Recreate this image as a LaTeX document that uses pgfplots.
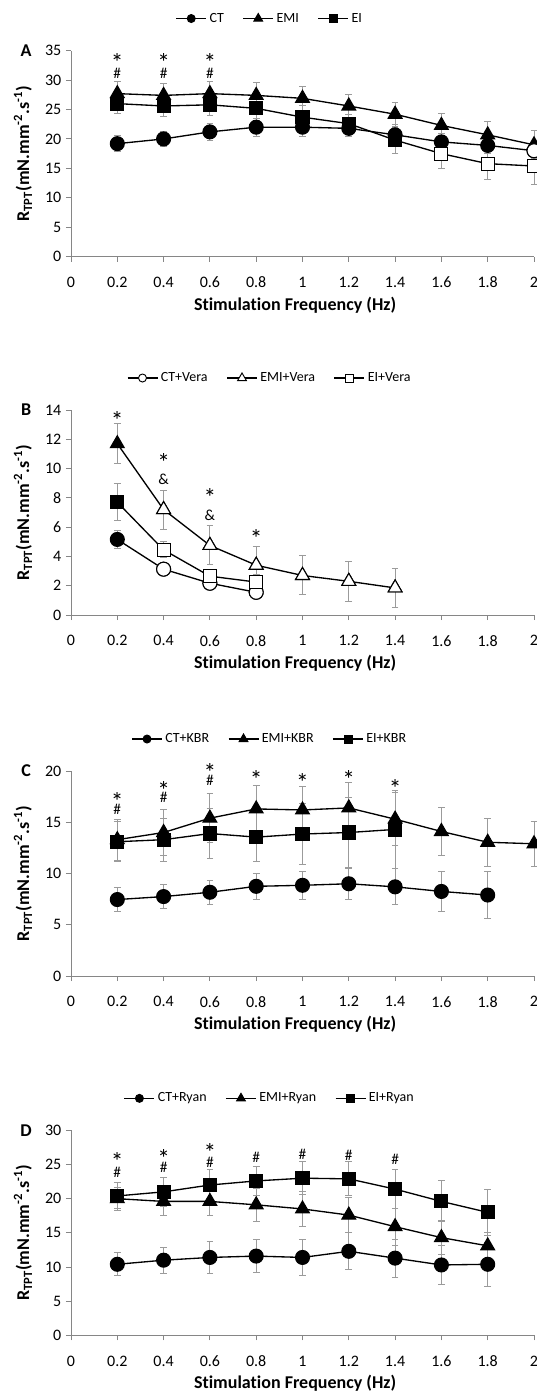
\documentclass[border=0pt]{standalone}
\usepackage{fontspec}
\setmainfont{Carlito}[Ligatures={NoCommon}]
\usepackage{pgfplots}
\pgfplotsset{compat=1.18}
\definecolor{axgray}{RGB}{134,134,134}
\definecolor{errgray}{RGB}{155,155,155}
\tikzset{
  ast/.style={font=\fontsize{19}{21}\selectfont, anchor=base, yshift=-9.9pt, inner sep=0pt},
  hsh/.style={font=\fontsize{11.5}{13}\selectfont, anchor=base, yshift=-4pt, inner sep=0pt},
  plet/.style={font=\bfseries\fontsize{13.5}{15}\selectfont, anchor=center},
}
\pgfplotsset{
  panel/.style={
    scale only axis, width=347.25pt, height=153.75pt,
    xmin=0, xmax=2, ymin=0,
    axis lines*=left,
    axis line style={axgray, line width=0.75pt},
    xtick={0,0.2,0.4,0.6,0.8,1,1.2,1.4,1.6,1.8,2},
    xticklabels={0,0.2,0.4,0.6,0.8,1,1.2,1.4,1.6,1.8,2},
    tick align=outside, major tick length=3.75pt,
    tick style={axgray, line width=0.75pt},
    tick label style={font=\fontsize{12}{14}\selectfont},
    xticklabel style={yshift=-8pt},
    /pgf/number format/assume math mode=true,
    clip=false,
    xlabel={Stimulation Frequency (Hz)},
    xlabel style={at={(axis description cs:0.484,-0.234)}, anchor=center, font=\bfseries\fontsize{13.5}{15}\selectfont},
    ylabel={R\textsubscript{TPT}(mN.mm\textsuperscript{-2}.s\textsuperscript{-1})},
    ylabel style={at={(axis description cs:-0.1037,0.5)}, anchor=center, font=\bfseries\fontsize{13.5}{15}\selectfont},
    legend style={at={(0.43,1.156)}, anchor=center, draw=none, fill=none, legend columns=-1,
      font=\fontsize{10.5}{12}\selectfont, inner sep=0pt,
      /tikz/every even column/.append style={column sep=12pt}},
    legend image code/.code={\draw[mark repeat=2,mark phase=2,#1] plot coordinates {(0pt,0pt) (11.25pt,0pt) (22.5pt,0pt)};},
  },
  ser/.style={black, line width=1pt, mark options={solid, line width=0.8pt, draw=black, fill=black},
    error bars/y dir=both, error bars/y explicit,
    error bars/error bar style={errgray, line width=0.75pt, solid},
    error bars/error mark options={rotate=90, errgray, mark size=2.5pt, line width=0.75pt}},
  circ/.style={mark=*, mark size=5.25pt},
  tri/.style={mark=triangle*, mark size=6pt},
  sqr/.style={mark=square*, mark size=4.9pt},
  openm/.style={forget plot, only marks, mark options={solid, line width=0.8pt, draw=black, fill=white}},
  lg/.style={black, line width=1pt, mark options={solid, line width=0.7pt, draw=black, fill=black}},
  lgo/.style={black, line width=1pt, mark options={solid, line width=0.7pt, draw=black, fill=white}},
}
\begin{document}
\begin{tikzpicture}
% ---------------- Panel A ----------------
\begin{axis}[panel, at={(53.25pt,-192.5pt)}, anchor=south west, ymax=35, ytick={0,5,...,35}, height=154.5pt]
\addlegendimage{lg, mark=*, mark size=3pt}\addlegendentry{CT}
\addlegendimage{lg, mark=triangle*, mark size=3.8pt}\addlegendentry{EMI}
\addlegendimage{lg, mark=square*, mark size=3pt}\addlegendentry{EI}
\addplot[ser, circ, forget plot] coordinates {
 (0.2,19.2) +- (0,1.4) (0.4,20.0) +- (0,1.3) (0.6,21.2) +- (0,1.4) (0.8,22.0) +- (0,1.5)
 (1.0,22.0) +- (0,1.5) (1.2,21.8) +- (0,1.4) (1.4,20.7) +- (0,1.7) (1.6,19.5) +- (0,1.5)
 (1.8,18.9) +- (0,1.4) (2.0,18.0) +- (0,1.5)};
\addplot[ser, tri, forget plot] coordinates {
 (0.2,27.7) +- (0,2.0) (0.4,27.4) +- (0,2.0) (0.6,27.7) +- (0,2.0) (0.8,27.4) +- (0,2.2)
 (1.0,26.9) +- (0,2.0) (1.2,25.6) +- (0,1.9) (1.4,24.2) +- (0,2.0) (1.6,22.3) +- (0,2.1)
 (1.8,20.7) +- (0,2.3) (2.0,19.0) +- (0,2.4)};
\addplot[ser, sqr, forget plot] coordinates {
 (0.2,26.0) +- (0,1.7) (0.4,25.6) +- (0,1.8) (0.6,25.8) +- (0,1.8) (0.8,25.2) +- (0,2.0)
 (1.0,23.7) +- (0,1.9) (1.2,22.6) +- (0,1.5) (1.4,19.8) +- (0,2.2) (1.6,17.5) +- (0,2.6)
 (1.8,15.8) +- (0,2.7) (2.0,15.4) +- (0,3.1)};
\addplot[openm, circ] coordinates {(2.0,18.0)};
\addplot[openm, sqr] coordinates {(1.6,17.5) (1.8,15.8) (2.0,15.4)};
\node[ast] at (axis cs:0.2,33.7) {*}; \node[hsh] at (axis cs:0.2,31.2) {\#};
\node[ast] at (axis cs:0.4,33.7) {*}; \node[hsh] at (axis cs:0.4,31.2) {\#};
\node[ast] at (axis cs:0.6,33.7) {*}; \node[hsh] at (axis cs:0.6,31.2) {\#};
\node[plet] at (axis description cs:-0.097,1) {A};
\end{axis}
% ---------------- Panel B ----------------
\begin{axis}[panel, at={(53.25pt,-461.25pt)}, anchor=south west, ymax=14, ytick={0,2,...,14}]
\addlegendimage{lgo, mark=*, mark size=3pt}\addlegendentry{CT+Vera}
\addlegendimage{lgo, mark=triangle*, mark size=3.8pt}\addlegendentry{EMI+Vera}
\addlegendimage{lgo, mark=square*, mark size=3pt}\addlegendentry{EI+Vera}
\addplot[ser, circ, forget plot] coordinates {
 (0.2,5.16) +- (0,0.6) (0.4,3.13) +- (0,0.3) (0.6,2.17) +- (0,0.3) (0.8,1.55) +- (0,0.3)};
\addplot[ser, tri, forget plot] coordinates {
 (0.2,11.7) +- (0,1.35) (0.4,7.2) +- (0,1.33) (0.6,4.75) +- (0,1.33) (0.8,3.4) +- (0,1.3)
 (1.0,2.7) +- (0,1.33) (1.2,2.3) +- (0,1.35) (1.4,1.85) +- (0,1.33)};
\addplot[ser, sqr, forget plot] coordinates {
 (0.2,7.7) +- (0,1.25) (0.4,4.45) +- (0,0.55) (0.6,2.65) +- (0,0.45) (0.8,2.25) +- (0,0.5)};
\addplot[openm, circ] coordinates {(0.4,3.13) (0.6,2.17) (0.8,1.55)};
\addplot[openm, tri] coordinates {(0.4,7.2) (0.6,4.75) (0.8,3.4) (1.0,2.7) (1.2,2.3) (1.4,1.85)};
\addplot[openm, sqr] coordinates {(0.4,4.45) (0.6,2.65) (0.8,2.25)};
\node[ast] at (axis cs:0.2,13.6) {*};
\node[ast] at (axis cs:0.4,10.7) {*}; \node[hsh] at (axis cs:0.4,9.3) {\&};
\node[ast] at (axis cs:0.6,8.3) {*}; \node[hsh] at (axis cs:0.6,6.85) {\&};
\node[ast] at (axis cs:0.8,5.5) {*};
\node[plet] at (axis description cs:-0.097,1) {B};
\end{axis}
% ---------------- Panel C ----------------
\begin{axis}[panel, at={(53.25pt,-732pt)}, anchor=south west, ymax=20, ytick={0,5,...,20}]
\addlegendimage{lg, mark=*, mark size=3pt}\addlegendentry{CT+KBR}
\addlegendimage{lg, mark=triangle*, mark size=3.8pt}\addlegendentry{EMI+KBR}
\addlegendimage{lg, mark=square*, mark size=3pt}\addlegendentry{EI+KBR}
\addplot[ser, circ, forget plot] coordinates {
 (0.2,7.46) +- (0,1.15) (0.4,7.75) +- (0,1.15) (0.6,8.17) +- (0,1.15) (0.8,8.75) +- (0,1.25)
 (1.0,8.85) +- (0,1.35) (1.2,9.0) +- (0,1.5) (1.4,8.7) +- (0,1.75) (1.6,8.25) +- (0,1.95)
 (1.8,7.9) +- (0,2.3)};
\addplot[ser, tri, forget plot] coordinates {
 (0.2,13.3) +- (0,2.0) (0.4,14.0) +- (0,2.2) (0.6,15.4) +- (0,2.4) (0.8,16.3) +- (0,2.3)
 (1.0,16.2) +- (0,2.3) (1.2,16.4) +- (0,2.5) (1.4,15.3) +- (0,2.6) (1.6,14.1) +- (0,2.35)
 (1.8,13.05) +- (0,2.35) (2.0,12.9) +- (0,2.2)};
\addplot[ser, sqr, forget plot] coordinates {
 (0.2,13.1) +- (0,1.95) (0.4,13.3) +- (0,2.1) (0.6,13.9) +- (0,2.4) (0.8,13.55) +- (0,2.4)
 (1.0,13.85) +- (0,2.95) (1.2,14.0) +- (0,3.4) (1.4,14.3) +- (0,3.8)};
\node[ast] at (axis cs:0.2,17.4) {*}; \node[hsh] at (axis cs:0.2,16.3) {\#};
\node[ast] at (axis cs:0.4,18.5) {*}; \node[hsh] at (axis cs:0.4,17.4) {\#};
\node[ast] at (axis cs:0.6,20.3) {*}; \node[hsh] at (axis cs:0.6,19.1) {\#};
\node[ast] at (axis cs:0.8,19.6) {*};
\node[ast] at (axis cs:1.0,19.3) {*};
\node[ast] at (axis cs:1.2,19.6) {*};
\node[ast] at (axis cs:1.4,18.7) {*};
\node[plet] at (axis description cs:-0.097,1) {C};
\end{axis}
% ---------------- Panel D ----------------
\begin{axis}[panel, at={(53.25pt,-1001.5pt)}, anchor=south west, ymax=30, ytick={0,5,...,30}]
\addlegendimage{lg, mark=*, mark size=3pt}\addlegendentry{CT+Ryan}
\addlegendimage{lg, mark=triangle*, mark size=3.8pt}\addlegendentry{EMI+Ryan}
\addlegendimage{lg, mark=square*, mark size=3pt}\addlegendentry{EI+Ryan}
\addplot[ser, circ, forget plot] coordinates {
 (0.2,10.4) +- (0,1.7) (0.4,11.0) +- (0,1.9) (0.6,11.4) +- (0,2.3) (0.8,11.6) +- (0,2.45)
 (1.0,11.4) +- (0,2.7) (1.2,12.3) +- (0,2.7) (1.4,11.3) +- (0,2.8) (1.6,10.3) +- (0,2.9)
 (1.8,10.4) +- (0,3.2)};
\addplot[ser, tri, forget plot] coordinates {
 (0.2,20.0) +- (0,1.7) (0.4,19.6) +- (0,2.0) (0.6,19.6) +- (0,2.1) (0.8,19.1) +- (0,2.4)
 (1.0,18.5) +- (0,2.5) (1.2,17.6) +- (0,2.6) (1.4,15.9) +- (0,2.7) (1.6,14.3) +- (0,2.5)
 (1.8,13.1) +- (0,2.0)};
\addplot[ser, sqr, forget plot] coordinates {
 (0.2,20.4) +- (0,1.9) (0.4,21.0) +- (0,2.1) (0.6,22.0) +- (0,2.2) (0.8,22.6) +- (0,2.1)
 (1.0,23.0) +- (0,2.4) (1.2,22.9) +- (0,2.5) (1.4,21.4) +- (0,2.8) (1.6,19.6) +- (0,3.0)
 (1.8,18.0) +- (0,3.4)};
\node[ast] at (axis cs:0.2,26.0) {*}; \node[hsh] at (axis cs:0.2,23.9) {\#};
\node[ast] at (axis cs:0.4,26.5) {*}; \node[hsh] at (axis cs:0.4,24.6) {\#};
\node[ast] at (axis cs:0.6,27.4) {*}; \node[hsh] at (axis cs:0.6,25.4) {\#};
\node[hsh] at (axis cs:0.8,26.1) {\#};
\node[hsh] at (axis cs:1.0,26.5) {\#};
\node[hsh] at (axis cs:1.2,26.4) {\#};
\node[hsh] at (axis cs:1.4,25.8) {\#};
\node[plet] at (axis description cs:-0.097,1) {D};
\end{axis}
\pgfresetboundingbox
\path[use as bounding box] (0pt,0pt) rectangle (402pt,-1045.5pt);
\end{tikzpicture}
\end{document}
